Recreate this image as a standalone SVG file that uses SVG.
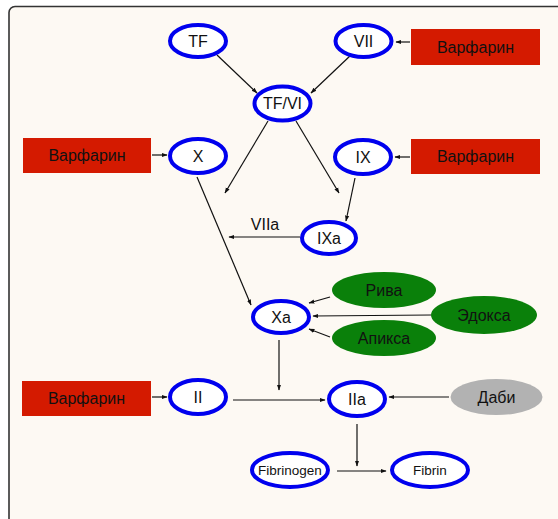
<svg xmlns="http://www.w3.org/2000/svg" width="558" height="519" viewBox="0 0 558 519">
<defs>
<style>
.n{fill:#fff;stroke:#0000ee;stroke-width:4}
.w{fill:#d41a00}
.g{fill:#0a800a}
.d{fill:#b2b2b2}
text{font-family:"Liberation Sans","DejaVu Sans",sans-serif;font-size:16px;fill:#111;text-anchor:middle;dominant-baseline:central}
.s{font-size:13.5px}
.c line{stroke:#111;stroke-width:1.2;marker-end:url(#a)}
</style>
<marker id="a" viewBox="0 0 10 10" refX="9" refY="5" markerWidth="6" markerHeight="6" orient="auto" markerUnits="userSpaceOnUse"><path d="M0,1.5L10,5L0,8.5z" fill="#111"/></marker>
</defs>
<rect x="0" y="0" width="558" height="519" fill="#fff"/>
<rect x="9" y="6.5" width="600" height="560" rx="6" fill="#fdf9f3" stroke="#333" stroke-width="1.6"/>
<g class="c">
<line x1="217" y1="55" x2="257" y2="93"/>
<line x1="351" y1="55" x2="311" y2="93"/>
<line x1="410" y1="42" x2="396" y2="42"/>
<line x1="268" y1="121" x2="225" y2="193"/>
<line x1="296" y1="121" x2="339" y2="193"/>
<line x1="152" y1="155" x2="167" y2="155"/>
<line x1="410" y1="157" x2="395" y2="157"/>
<line x1="355" y1="178" x2="346" y2="221"/>
<line x1="300" y1="237" x2="229" y2="237"/>
<line x1="197" y1="177" x2="251" y2="305"/>
<line x1="330" y1="297" x2="309" y2="303"/>
<line x1="431" y1="315" x2="313" y2="316"/>
<line x1="330" y1="337" x2="309" y2="329"/>
<line x1="279" y1="340" x2="279" y2="390"/>
<line x1="152" y1="397" x2="167" y2="397"/>
<line x1="233" y1="400" x2="325" y2="400"/>
<line x1="449" y1="397" x2="389" y2="397"/>
<line x1="357" y1="424" x2="357" y2="466"/>
<line x1="337" y1="471" x2="386" y2="471"/>
</g>
<text x="265" y="224">VIIa</text>
<g id="tf"><ellipse class="n" cx="198" cy="41" rx="28" ry="16"/><text x="198" y="41">TF</text></g>
<g id="vii"><ellipse class="n" cx="363.5" cy="41" rx="28" ry="16"/><text x="363.5" y="41">VII</text></g>
<g id="w1"><rect class="w" x="411" y="29" width="129" height="36"/><text x="475.5" y="47">Варфарин</text></g>
<g id="tfvi"><ellipse class="n" cx="282.5" cy="103.5" rx="28" ry="17"/><text x="282.5" y="103.5">TF/VI</text></g>
<g id="w2"><rect class="w" x="23" y="138" width="128" height="35"/><text x="87" y="155.5">Варфарин</text></g>
<g id="x"><ellipse class="n" cx="198" cy="156" rx="28" ry="17"/><text x="198" y="156">X</text></g>
<g id="ix"><ellipse class="n" cx="363" cy="157" rx="28" ry="17"/><text x="363" y="157">IX</text></g>
<g id="w3"><rect class="w" x="411" y="139" width="129" height="35"/><text x="475.5" y="156.5">Варфарин</text></g>
<g id="ixa"><ellipse class="n" cx="329" cy="238" rx="27" ry="16"/><text x="329" y="238">IXa</text></g>
<g id="xa"><ellipse class="n" cx="281" cy="317" rx="28" ry="16"/><text x="281" y="317">Xa</text></g>
<g id="riva"><ellipse class="g" cx="384" cy="290" rx="52" ry="18"/><text x="384" y="290">Рива</text></g>
<g id="edoksa"><ellipse class="g" cx="484" cy="315" rx="53" ry="19"/><text x="484" y="315">Эдокса</text></g>
<g id="apiksa"><ellipse class="g" cx="384" cy="338" rx="52" ry="18"/><text x="384" y="338">Апикса</text></g>
<g id="w4"><rect class="w" x="22" y="381" width="129" height="35"/><text x="86.5" y="398.5">Варфарин</text></g>
<g id="ii"><ellipse class="n" cx="198" cy="397" rx="28" ry="17"/><text x="198" y="397">II</text></g>
<g id="iia"><ellipse class="n" cx="357" cy="399" rx="28" ry="17"/><text x="357" y="399">IIa</text></g>
<g id="dabi"><ellipse class="d" cx="496.5" cy="397" rx="46" ry="18"/><text x="496.5" y="397">Даби</text></g>
<g id="fibrinogen"><ellipse class="n" cx="290" cy="470" rx="38" ry="17"/><text class="s" x="290" y="470">Fibrinogen</text></g>
<g id="fibrin"><ellipse class="n" cx="430" cy="470" rx="38" ry="17"/><text class="s" x="430" y="470">Fibrin</text></g>
</svg>
